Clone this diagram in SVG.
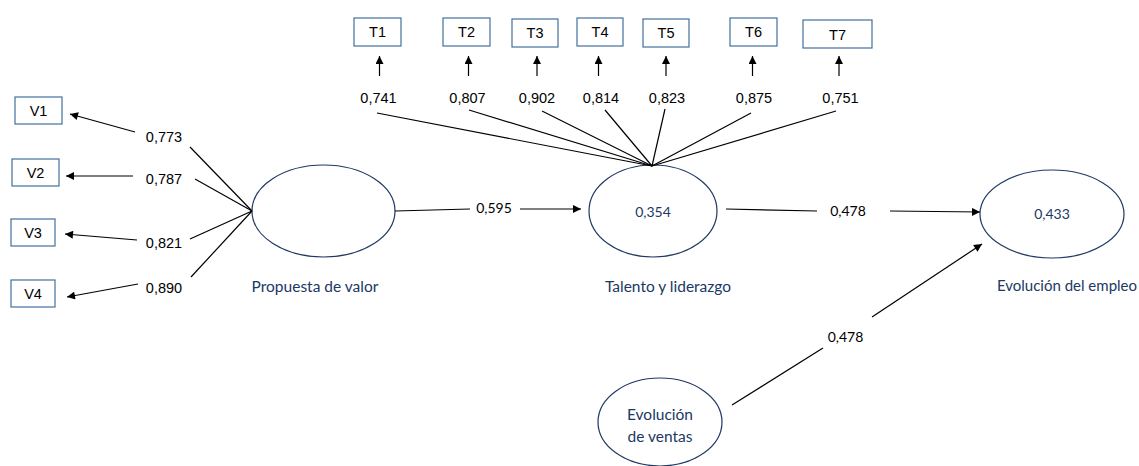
<svg xmlns="http://www.w3.org/2000/svg" width="1139" height="466" viewBox="0 0 1139 466">
  <style>
    .ind { fill: #ffffff; stroke: #41719c; stroke-width: 1.2; }
    .lat { fill: #ffffff; stroke: #203864; stroke-width: 1.2; }
    .edge { stroke: #000000; stroke-width: 1.2; fill: none; }
    .arr { stroke: #000000; stroke-width: 1.2; fill: none; marker-end: url(#head); }
    .lbl { font-family: "Liberation Sans", Arial, sans-serif; font-size: 14.5px; fill: #000000; text-anchor: middle; }
    .coef { font-family: Lato, "Open Sans", sans-serif; font-size: 14px; fill: #000000; text-anchor: middle; }
    .val { font-family: Lato, "Open Sans", sans-serif; font-size: 14px; fill: #203864; text-anchor: middle; }
    .name { font-family: Lato, "Open Sans", sans-serif; font-size: 15.5px; fill: #203864; text-anchor: middle; }
    .box { font-family: "Liberation Sans", Arial, sans-serif; font-size: 14.5px; fill: #000000; text-anchor: middle; }
  </style>
  <defs>
    <marker id="head" viewBox="0 0 10 10" refX="10" refY="5" markerWidth="9" markerHeight="8" markerUnits="userSpaceOnUse" orient="auto">
      <path d="M0,0 L10,5 L0,10 Z" fill="#000000"/>
    </marker>
  </defs>

  <!-- indicator boxes for Propuesta de valor -->
  <g id="V1"><rect class="ind" x="15" y="97" width="47" height="27"/><text class="box" x="38.5" y="116">V1</text></g>
  <g id="V2"><rect class="ind" x="12" y="159" width="47" height="27"/><text class="box" x="35.5" y="178">V2</text></g>
  <g id="V3"><rect class="ind" x="11" y="219" width="44" height="27"/><text class="box" x="33" y="238">V3</text></g>
  <g id="V4"><rect class="ind" x="11" y="280" width="44" height="27"/><text class="box" x="33" y="299">V4</text></g>

  <!-- indicator boxes for Talento y liderazgo -->
  <g id="T1"><rect class="ind" x="354" y="18" width="47" height="28"/><text class="box" x="377.5" y="37">T1</text></g>
  <g id="T2"><rect class="ind" x="443" y="18" width="47" height="28"/><text class="box" x="466.5" y="37">T2</text></g>
  <g id="T3"><rect class="ind" x="512" y="19" width="46" height="28"/><text class="box" x="535" y="38">T3</text></g>
  <g id="T4"><rect class="ind" x="577" y="18" width="46" height="28"/><text class="box" x="600" y="37">T4</text></g>
  <g id="T5"><rect class="ind" x="643" y="19" width="46" height="28"/><text class="box" x="666" y="38">T5</text></g>
  <g id="T6"><rect class="ind" x="730" y="18" width="47" height="28"/><text class="box" x="753.5" y="37">T6</text></g>
  <g id="T7"><rect class="ind" x="803" y="20" width="69" height="28"/><text class="box" x="837.5" y="40">T7</text></g>

  <!-- latent constructs -->
  <g id="propuesta">
    <ellipse class="lat" cx="323.5" cy="211" rx="71.5" ry="46"/>
    <text class="name" x="315" y="292">Propuesta de valor</text>
  </g>
  <g id="talento">
    <ellipse class="lat" cx="653" cy="211" rx="64" ry="46"/>
    <text class="val" x="653" y="217">0,354</text>
    <text class="name" x="668" y="292">Talento y liderazgo</text>
  </g>
  <g id="empleo">
    <ellipse class="lat" cx="1052" cy="214" rx="72" ry="44"/>
    <text class="val" x="1052" y="219">0,433</text>
    <text class="name" x="1137" y="291" style="text-anchor: end; font-size: 15px;">Evolución del empleo</text>
  </g>
  <g id="ventas">
    <ellipse class="lat" cx="660" cy="422" rx="62" ry="44"/>
    <text class="name" x="660" y="420">Evolución</text>
    <text class="name" x="660" y="442">de ventas</text>
  </g>

  <!-- connectors -->
  <g id="connectors">
    <!-- Propuesta de valor loadings -->
    <line class="edge" x1="190" y1="147" x2="252" y2="211"/>
    <line class="edge" x1="195" y1="179" x2="252" y2="211"/>
    <line class="edge" x1="190" y1="239" x2="252" y2="211"/>
    <line class="edge" x1="191" y1="277" x2="252" y2="211"/>
    <line class="arr" x1="135" y1="132" x2="70" y2="114"/>
    <line class="arr" x1="133" y1="176" x2="66" y2="176"/>
    <line class="arr" x1="137" y1="240" x2="65" y2="234"/>
    <line class="arr" x1="138" y1="284" x2="67" y2="297"/>

    <!-- Talento y liderazgo loadings -->
    <line class="edge" x1="377" y1="113" x2="652" y2="166"/>
    <line class="edge" x1="469" y1="110" x2="652" y2="166"/>
    <line class="edge" x1="542" y1="111" x2="652" y2="166"/>
    <line class="edge" x1="605" y1="110" x2="652" y2="166"/>
    <line class="edge" x1="665" y1="109" x2="652" y2="166"/>
    <line class="edge" x1="751" y1="113" x2="652" y2="166"/>
    <line class="edge" x1="836" y1="111" x2="652" y2="166"/>
    <line class="arr" x1="379.5" y1="76" x2="379.5" y2="56"/>
    <line class="arr" x1="468.5" y1="76" x2="468.5" y2="56"/>
    <line class="arr" x1="537" y1="76" x2="537" y2="56"/>
    <line class="arr" x1="598.5" y1="76" x2="598.5" y2="56"/>
    <line class="arr" x1="666" y1="76" x2="666" y2="56"/>
    <line class="arr" x1="752.5" y1="76" x2="752.5" y2="56"/>
    <line class="arr" x1="839" y1="76" x2="839" y2="56"/>

    <!-- structural paths -->
    <line class="edge" x1="395" y1="211" x2="470" y2="209"/>
    <line class="arr" x1="520" y1="209" x2="581" y2="209"/>
    <line class="edge" x1="726" y1="209" x2="817" y2="211"/>
    <line class="arr" x1="890" y1="211" x2="980" y2="212"/>
    <line class="edge" x1="732" y1="405" x2="823" y2="348"/>
    <line class="arr" x1="872" y1="317" x2="982" y2="244"/>
  </g>

  <!-- coefficients -->
  <g id="coefficients">
    <text class="lbl" x="164" y="142">0,773</text>
    <text class="lbl" x="164" y="184">0,787</text>
    <text class="lbl" x="164" y="248">0,821</text>
    <text class="lbl" x="164" y="293">0,890</text>
    <text class="lbl" x="378.5" y="103">0,741</text>
    <text class="lbl" x="467.5" y="103">0,807</text>
    <text class="lbl" x="537" y="103">0,902</text>
    <text class="lbl" x="601" y="103">0,814</text>
    <text class="lbl" x="667" y="103">0,823</text>
    <text class="lbl" x="754" y="103">0,875</text>
    <text class="lbl" x="840.5" y="103">0,751</text>
    <text class="coef" x="494" y="213">0,595</text>
    <text class="coef" x="848" y="216">0,478</text>
    <text class="coef" x="845.5" y="342">0,478</text>
  </g>
</svg>
